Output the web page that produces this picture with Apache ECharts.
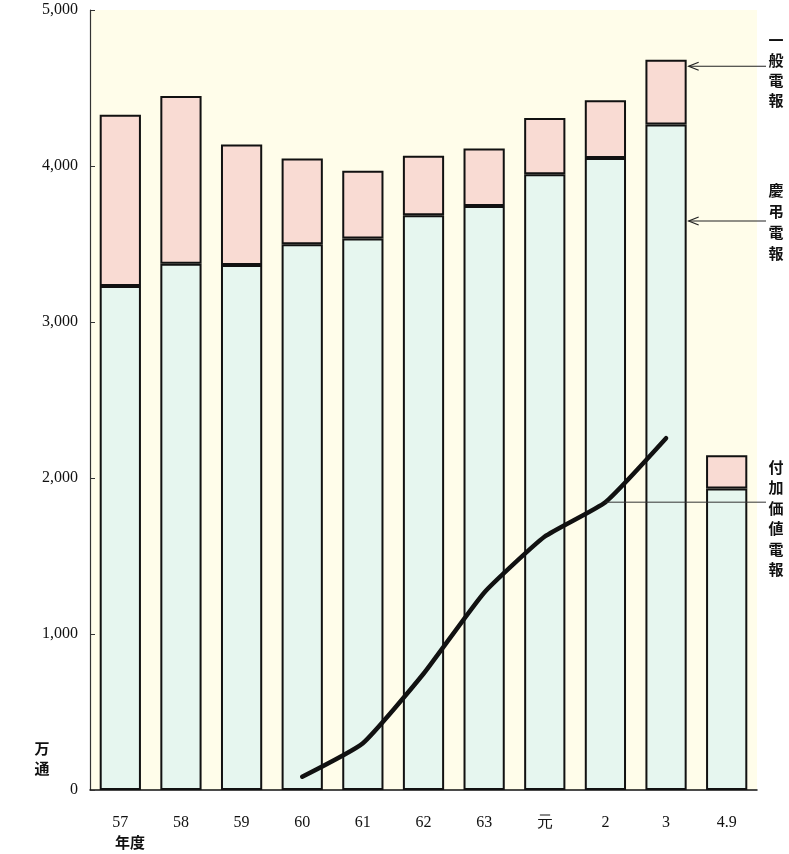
<!DOCTYPE html>
<html><head><meta charset="utf-8">
<script src="https://cdn.jsdelivr.net/npm/echarts@6/dist/echarts.min.js"></script>
<style>html,body{margin:0;padding:0;background:#fff}#c{width:789px;height:854px}</style>
</head><body><div id="c"></div>
<script>
const categories = ['57','58','59','60','61','62','63','元','2','3','4.9'];
const keichoDenpo = [3230,3374,3365,3498,3535,3684,3744,3947,4052,4266,1932];
const ippanDenpo  = [1098,1074,773,550,434,381,368,360,370,415,214];
const fukaKachi   = [null,null,null,85,300,745,1265,1625,1845,2255,null];
const yTicks = [0,1000,2000,3000,4000,5000];

const chart = echarts.init(document.getElementById('c'), null, {renderer:'canvas'});
const serif = '"Liberation Serif","DejaVu Serif",serif';
const jp = '"Noto Sans CJK JP","Noto Sans CJK SC",sans-serif';
chart.setOption({
  animation:false,
  backgroundColor:'#ffffff',
  grid:{left:90,right:32,top:10,bottom:64,show:true,backgroundColor:'#fffdea',borderWidth:0},
  xAxis:{type:'category',data:categories,
    axisLine:{lineStyle:{color:'#111',width:1.5}},axisTick:{show:false},
    axisLabel:{color:'#111',fontSize:16,fontFamily:serif,margin:25}},
  yAxis:{type:'value',min:0,max:5000,interval:1000,
    axisLine:{show:true,lineStyle:{color:'#333',width:1.2}},
    axisTick:{show:true,inside:true,length:5,lineStyle:{color:'#333'}},
    splitLine:{show:false},
    axisLabel:{color:'#111',fontSize:16,fontFamily:serif,margin:12,
      formatter:v=>yTicks.includes(v)?v.toLocaleString('en-US'):''}},
  series:[
    {name:'慶弔電報',type:'bar',stack:'t',data:keichoDenpo,barWidth:'68%',
      itemStyle:{color:'#e6f6ef',borderColor:'#111',borderWidth:2}},
    {name:'一般電報',type:'bar',stack:'t',data:ippanDenpo,barWidth:'68%',
      itemStyle:{color:'#f9dbd3',borderColor:'#111',borderWidth:2}},
    {name:'付加価値電報',type:'line',data:fukaKachi,symbol:'none',smooth:0.15,z:5,
      lineStyle:{color:'#111',width:4.5,cap:'round'}}
  ]
});

function px(cat,val){return chart.convertToPixel({xAxisIndex:0,yAxisIndex:0},[cat,val]);}
const p3top = px('3', keichoDenpo[9]+ippanDenpo[9]*0.9);
const p3mid = px('3', keichoDenpo[9]*0.855);
const p2 = px('2', fukaKachi[8]);
const barHalf = (px('3',0)[0]-px('2',0)[0])*0.34;
const rightX = 766;
function arrow(y, x0){
  return [
    {type:'line',z:100,shape:{x1:x0+2,y1:y,x2:rightX,y2:y},style:{stroke:'#222',lineWidth:1.2}},
    {type:'polyline',z:100,shape:{points:[[x0+12,y-4],[x0+2,y],[x0+12,y+4]]},style:{stroke:'#222',lineWidth:1.2,fill:null}}
  ];
}
function vtext(chars, x, y0, step){
  return chars.split('').map((ch,i)=>({type:'text',z:100,x:x,y:y0+i*step,
    style:{text:ch,font:'bold 15px '+jp,fill:'#111',textAlign:'center',textVerticalAlign:'middle'}}));
}
const x3right = px('3',0)[0]+barHalf;
chart.setOption({graphic:[
  ...arrow(p3top[1], x3right),
  ...arrow(p3mid[1], x3right),
  {type:'line',z:100,shape:{x1:p2[0],y1:p2[1],x2:rightX,y2:p2[1]},style:{stroke:'#333',lineWidth:1}},
  ...vtext('一般電報',776,40,20),
  ...vtext('慶弔電報',776,190,21),
  ...vtext('付加価値電報',776,467,20.5),
  ...vtext('万通',42,748,20),
  {type:'text',z:100,x:130,y:842,style:{text:'年度',font:'bold 15px '+jp,fill:'#111',textAlign:'center',textVerticalAlign:'middle'}}
]});
</script></body></html>
